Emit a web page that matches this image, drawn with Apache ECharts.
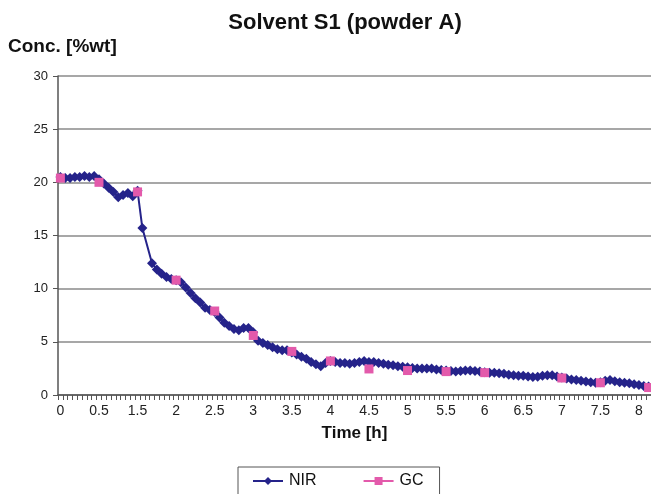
<!DOCTYPE html>
<html>
<head>
<meta charset="utf-8">
<script src="https://cdn.jsdelivr.net/npm/echarts@6/dist/echarts.min.js"></script>
<style>
  html, body { margin: 0; padding: 0; background: #ffffff; }
  #chart { width: 651px; height: 494px; }
</style>
</head>
<body>
<div id="chart"></div>
<script>
// Time-axis tick labels, one every 8 samples
const tickLabels = ['0', '0.5', '1.5', '2', '2.5', '3', '3.5', '4', '4.5', '5', '5.5', '6', '6.5', '7', '7.5', '8'];
const samplesPerLabel = 8;

// NIR concentration [%wt], one value per sample (null = no reading)
const nirValues = [
  20.5, 20.4, 20.4, 20.5, 20.5, 20.6, 20.5, 20.6, 20.3, 19.9,
  19.5, 19.1, 18.6, 18.8, 19.0, 18.7, 19.2, 15.7, null, 12.4,
  11.8, 11.4, 11.1, 10.9, 10.8, 10.6, 10.1, 9.6, 9.1, 8.7,
  8.2, 8.0, 7.8, 7.3, 6.8, 6.5, 6.2, 6.1, 6.3, 6.3,
  5.9, 5.1, 4.9, 4.7, 4.5, 4.3, 4.2, 4.2, 4.0, 3.8,
  3.6, 3.4, 3.1, 2.9, 2.7, 3.0, 3.2, 3.1, 3.0, 3.0,
  2.95, 3.0, 3.1, 3.2, 3.1, 3.1, 3.0, 2.95, 2.85, 2.8,
  2.7, 2.65, 2.6, 2.55, 2.5, 2.5, 2.5, 2.5, 2.4, 2.35,
  2.3, 2.25, 2.2, 2.25, 2.3, 2.3, 2.25, 2.2, 2.15, 2.1,
  2.1, 2.05, 2.0, 1.9, 1.85, 1.8, 1.8, 1.75, 1.7, 1.72,
  1.8, 1.85, 1.85, 1.75, 1.65, 1.55, 1.45, 1.4, 1.35, 1.28,
  1.2, 1.15, 1.2, 1.35, 1.4, 1.3, 1.2, 1.15, 1.1, 1.0,
  0.95, 0.85, 0.8
];

// GC reference measurements: sample index and concentration [%wt]
const gcSamples = [0, 8, 16, 24, 32, 40, 48, 56, 64, 72, 80, 88, 104, 112, 122];
const gcValues = [20.4, 20.0, 19.1, 10.8, 7.9, 5.6, 4.1, 3.2, 2.45, 2.3, 2.2, 2.1, 1.6, 1.15, 0.7];

const categories = nirValues.map((_, i) => String(i));
const gcData = gcSamples.map((s, k) => [s, gcValues[k]]);

const FONT = '"Liberation Sans", Arial, sans-serif';
const NIR_COLOR = '#25238a';
const GC_COLOR = '#e35aab';

const chart = echarts.init(document.getElementById('chart'), null, { renderer: 'canvas' });
chart.setOption({
  animation: false,
  backgroundColor: '#ffffff',
  title: {
    text: 'Solvent S1 (powder A)',
    left: 340,
    textAlign: 'center',
    top: 7,
    textStyle: { fontFamily: FONT, fontSize: 22, fontWeight: 'bold', color: '#111' }
  },
  graphic: [{
    type: 'text',
    left: 8,
    top: 37,
    style: { text: 'Conc. [%wt]', font: 'bold 19px ' + FONT, fill: '#111' }
  }],
  legend: {
    left: 238,
    top: 467,
    padding: [6, 16, 14, 14],
    itemGap: 46,
    itemWidth: 30,
    itemHeight: 10,
    borderColor: '#555',
    borderWidth: 1,
    textStyle: { fontFamily: FONT, fontSize: 16, color: '#111', padding: [0, 0, 0, 1] },
    data: [
      { name: 'NIR' },
      { name: 'GC', lineStyle: { color: GC_COLOR, width: 2, opacity: 1 } }
    ]
  },
  grid: { left: 58, right: 0, top: 76, bottom: 99, containLabel: false },
  xAxis: {
    type: 'category',
    data: categories,
    boundaryGap: true,
    name: 'Time [h]',
    nameLocation: 'middle',
    nameGap: 30,
    nameTextStyle: { fontFamily: FONT, fontSize: 17, fontWeight: 'bold', color: '#111' },
    axisLine: { lineStyle: { color: '#555', width: 1.5 } },
    axisTick: { show: true, interval: 0, length: 5, lineStyle: { color: '#555' } },
    axisLabel: {
      interval: samplesPerLabel - 1,
      margin: 9,
      fontFamily: FONT,
      fontSize: 14,
      color: '#222',
      formatter: (v, i) => (i % samplesPerLabel === 0 ? tickLabels[i / samplesPerLabel] : '')
    },
    splitLine: { show: false }
  },
  yAxis: {
    type: 'value',
    min: 0,
    max: 30,
    interval: 5,
    axisLine: { show: true, lineStyle: { color: '#555', width: 1.5 } },
    axisTick: { show: true, length: 5, lineStyle: { color: '#555' } },
    axisLabel: { margin: 10, fontFamily: FONT, fontSize: 13, color: '#222' },
    splitLine: { show: true, lineStyle: { color: '#8a8a8a', width: 1.5 } }
  },
  series: [
    {
      name: 'NIR',
      type: 'line',
      data: nirValues,
      connectNulls: true,
      symbol: 'diamond',
      symbolSize: 10,
      showAllSymbol: true,
      lineStyle: { color: NIR_COLOR, width: 2 },
      itemStyle: { color: NIR_COLOR },
      z: 2
    },
    {
      name: 'GC',
      type: 'line',
      data: gcData,
      symbol: 'rect',
      symbolSize: 9,
      showAllSymbol: true,
      lineStyle: { color: GC_COLOR, width: 0, opacity: 0 },
      itemStyle: { color: GC_COLOR },
      z: 3
    }
  ]
});
</script>
</body>
</html>
